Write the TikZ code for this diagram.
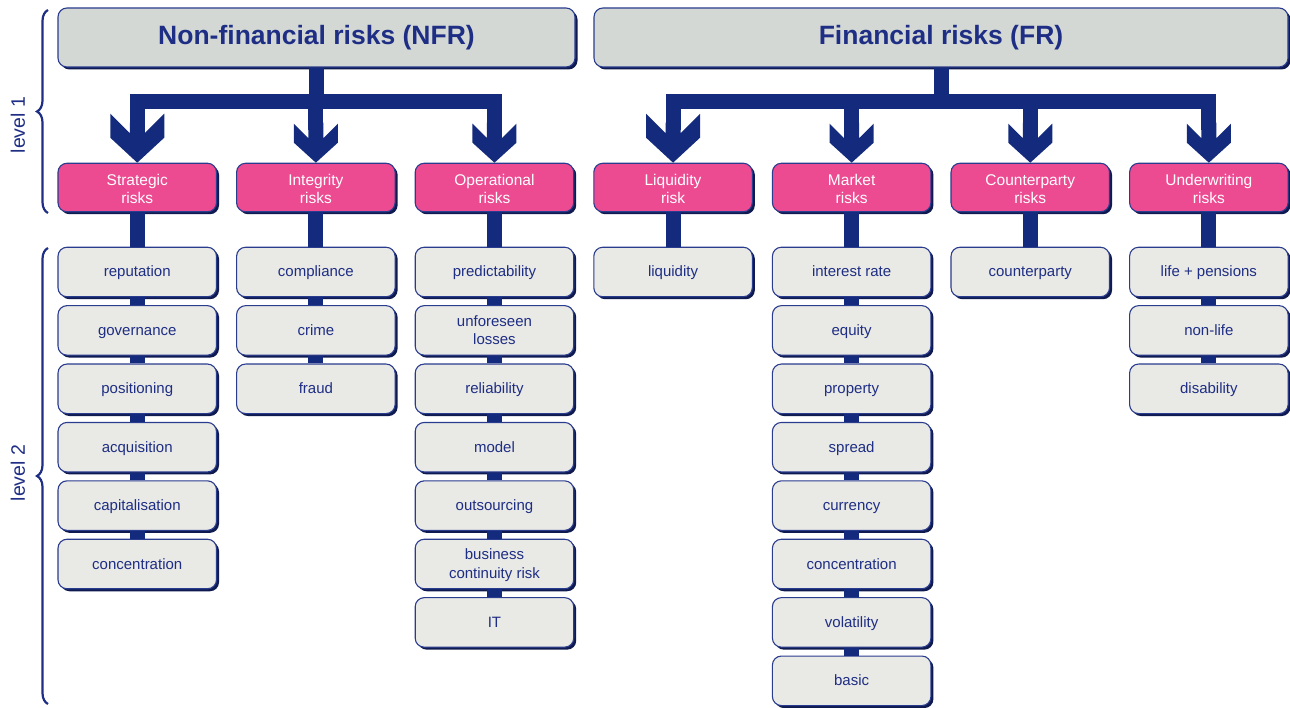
\documentclass[tikz,border=0pt]{standalone}
\usepackage{fontspec}
\setmainfont{Liberation Sans}
\usetikzlibrary{shadows,decorations.pathreplacing}
\definecolor{navy}{HTML}{142B7D}
\definecolor{txtnavy}{HTML}{1E2E84}
\definecolor{pinkc}{HTML}{EC4A91}
\definecolor{boxgray}{HTML}{E9E9E5}
\definecolor{topgray}{HTML}{D4D8D5}
\definecolor{bordc}{HTML}{2A3C8E}
\definecolor{shadc}{HTML}{0E1A50}
\newcommand\cattop{\rule{0pt}{14.5pt}}
\newcommand\subtop{\rule{0pt}{13.5pt}}
\newcommand\subbot{\rule[-3.5pt]{0pt}{3.5pt}}
\tikzset{
 base/.style={rounded corners=9pt, draw=bordc, line width=1.1pt, inner sep=0pt,
   drop shadow={shadow xshift=2.5pt, shadow yshift=-2.5pt, fill=shadc, opacity=1}},
 topbox/.style={base, fill=topgray, minimum height=59pt, text=txtnavy,
   font=\fontsize{26.5}{30}\selectfont\bfseries},
 cat/.style={base, fill=pinkc, minimum width=158.5pt, minimum height=48.5pt,
   text=white, align=center, font=\fontsize{15.5}{18.4}\selectfont},
 sub/.style={base, fill=boxgray, minimum width=158.5pt, minimum height=49.5pt,
   text=txtnavy, align=center, font=\fontsize{15}{18.4}\selectfont},
 bar/.style={draw=navy, line width=15pt, line join=miter},
 vlink/.style={draw=navy, line width=15pt},
 lvl/.style={text=txtnavy, font=\fontsize{19.5}{22}\selectfont, rotate=90},
 brc/.style={draw=txtnavy, line width=2.2pt, decorate, decoration={brace, amplitude=11pt}},
 bighead/.pic={\fill[navy] (-7.5,-40) -- (-7.5,-29.5) -- (-27,-49) -- (-27,-25) -- (0,0)
   -- (27,-25) -- (27,-49) -- (7.5,-29.5) -- (7.5,-40) -- cycle;},
 smallhead/.pic={\fill[navy] (-7.5,-40) -- (-7.5,-24.5) -- (-22,-39) -- (-22,-20) -- (0,0)
   -- (22,-20) -- (22,-39) -- (7.5,-24.5) -- (7.5,-40) -- cycle;}
}
\newcommand\riskcol[4]{%
 \foreach \t [count=\j, remember=\j as \p (initially 0)] in {#4}{%
   \node[sub] (#1\j) at (#2,{272+58.4*(\j-1)}) {\subtop\t\subbot};
   \ifnum\p=0 \draw[vlink] (#3.south) -- (#1\j.north);
   \else \draw[vlink] (#1\p.south) -- (#1\j.north);\fi
 }%
}
\begin{document}
\begin{tikzpicture}[x=1pt,y=-1pt]
\useasboundingbox (0,0) rectangle (1290,708);
% top boxes
\node[topbox, minimum width=517pt] (nfr) at (316.5,37.5) {Non-financial risks (NFR)};
\node[topbox, minimum width=694pt] (fr) at (941,37.5) {Financial risks (FR)};
% categories
\node[cat] (strat) at (137.25,187.5) {\cattop Strategic\\risks};
\node[cat] (integ) at (315.85,187.5) {\cattop Integrity\\risks};
\node[cat] (oper) at (494.45,187.5) {\cattop Operational\\risks};
\node[cat] (liq) at (673.05,187.5) {\cattop Liquidity\\risk};
\node[cat] (mkt) at (851.65,187.5) {\cattop Market\\risks};
\node[cat] (cpty) at (1030.25,187.5) {\cattop Counterparty\\risks};
\node[cat] (uw) at (1208.85,187.5) {\cattop Underwriting\\risks};
% bars NFR
\draw[bar] (nfr.south) -- (nfr.south |- 0,102);
\draw[bar] (strat.north |- 0,130) -- (strat.north |- 0,102) -- (oper.north |- 0,102) -- (oper.north |- 0,130);
\draw[bar] (integ.north |- 0,102) -- (integ.north |- 0,130);
% bars FR
\draw[bar] (fr.south) -- (fr.south |- 0,102);
\draw[bar] (liq.north |- 0,130) -- (liq.north |- 0,102) -- (uw.north |- 0,102) -- (uw.north |- 0,130);
\draw[bar] (mkt.north |- 0,102) -- (mkt.north |- 0,130);
\draw[bar] (cpty.north |- 0,102) -- (cpty.north |- 0,130);
% heads
\pic at (strat.north) {bighead};
\pic at (integ.north) {smallhead};
\pic at (oper.north) {smallhead};
\pic at (liq.north) {bighead};
\pic at (mkt.north) {smallhead};
\pic at (cpty.north) {smallhead};
\pic at (uw.north) {smallhead};
% level 2 columns
\riskcol{a}{137.25}{strat}{reputation,governance,positioning,acquisition,capitalisation,concentration}
\riskcol{b}{315.85}{integ}{compliance,crime,fraud}
\riskcol{c}{494.45}{oper}{predictability,{unforeseen\\losses},reliability,model,outsourcing,{business\\continuity risk},IT}
\riskcol{d}{673.05}{liq}{liquidity}
\riskcol{e}{851.65}{mkt}{interest rate,equity,property,spread,currency,concentration,volatility,basic}
\riskcol{f}{1030.25}{cpty}{counterparty}
\riskcol{g}{1208.85}{uw}{life + pensions,non-life,disability}
% braces and level labels
\draw[brc] (48,213) -- (48,10);
\draw[brc] (48,704) -- (48,248);
\node[lvl] (l1) at (18,125) {level 1};
\node[lvl] (l2) at (18,473) {level 2};
\end{tikzpicture}
\end{document}
